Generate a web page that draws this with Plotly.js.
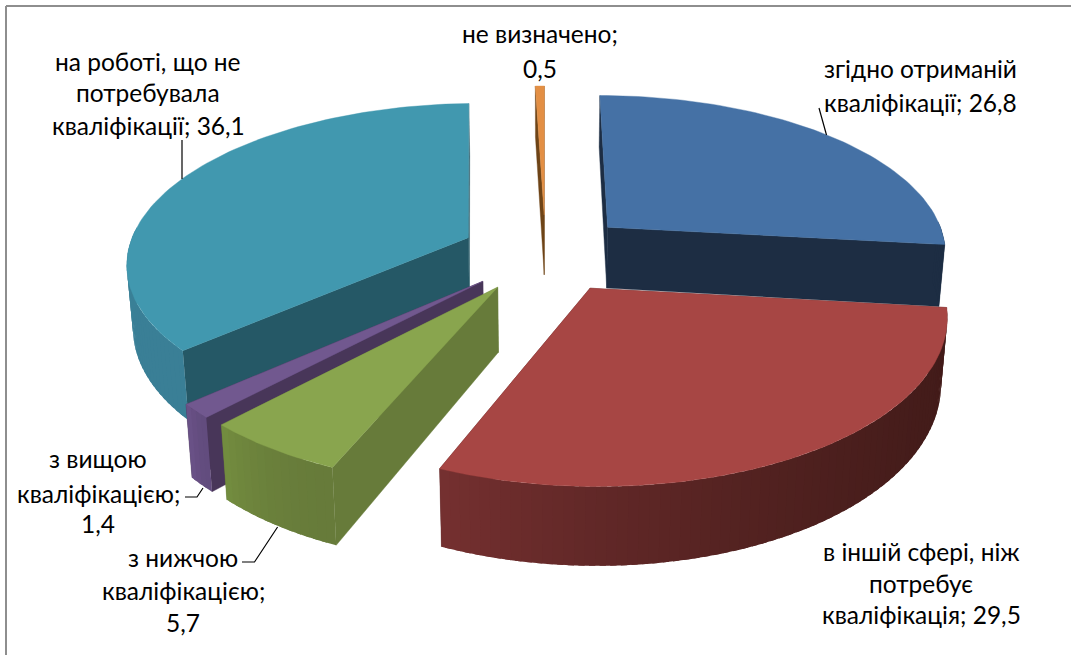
<!DOCTYPE html>
<html>
<head>
<meta charset="utf-8">
<script src="https://cdn.plot.ly/plotly-3.0.1.min.js"></script>
<style>html,body{margin:0;padding:0;background:#fff;overflow:hidden}</style>
</head>
<body>
<div id="chart" style="width:1071px;height:655px"></div>
<script>
// Data
const categories = ["згідно отриманій кваліфікації", "в іншій сфері, ніж потребує кваліфікація",
  "з нижчою кваліфікацією", "з вищою кваліфікацією", "на роботі, що не потребувала кваліфікації", "не визначено"];
const values = [26.8, 29.5, 5.7, 1.4, 36.1, 0.5];

// Label lines, per category
const labelLines = [
  ["згідно отриманій", "кваліфікації; 26,8"],
  ["в іншій сфері, ніж", "потребує", "кваліфікація; 29,5"],
  ["з нижчою", "кваліфікацією;", "5,7"],
  ["з вищою", "кваліфікацією;", "1,4"],
  ["на роботі, що не", "потребувала", "кваліфікації; 36,1"],
  ["не визначено;", "0,5"]
];
const labelX = [920, 921, 183, 98, 148, 540];
const labelY = [[68,102],[551,583,614],[557,590,622],[458,493,523],[61,92,125],[33,68]];

// Colours
const topColor  = ["#4571a5", "#a74644", "#89a54e", "#71588f", "#4198af", "#e38f44"];
const cutColor  = ["#1d2d43", "#5c2020", "#677b3a", "#483659", "#255866", "#6e4417"];
const wallFrom  = ["#1d2d43", "#421b19", "#677b3a", "#624c7e", "#3a7f96", "#8a5a20"]; // at the low-angle end
const wallTo    = ["#1d2d43", "#753030", "#738d3f", "#6b5288", "#3f8aa3", "#8a5a20"]; // at the high-angle end
const drawOrder = [4, 5, 0, 3, 2, 1];

// Projection of the tilted, exploded pie onto the pixel axes
const cx = 545.5, cy = 253, A = 341, B = 158, H = 64, K = 0.146, M = 0.015, EXPLODE = 0.25;
function project(X, Y, z) {
  const p = 1 / (1 + K * Y + M * z);
  return [cx + A * X * p, cy - B * Y * p + H * z * Math.pow(p, 1.5)];
}
function hex(c){return [1,3,5].map(i=>parseInt(c.substr(i,2),16));}
function mix(a,b,t){const x=hex(a),y=hex(b);return "rgb("+x.map((v,i)=>Math.round(v+(y[i]-v)*t)).join(",")+")";}

const traces = [];
function poly(pts, color, name, width) {
  traces.push({
    type: "scatter", mode: width ? "lines" : "none", name: name,
    x: pts.map(p=>p[0]).concat(pts[0][0]), y: pts.map(p=>p[1]).concat(pts[0][1]),
    fill: "toself", fillcolor: color, line: {color: color, width: width},
    hoverinfo: "text", text: name, showlegend: false
  });
}

const total = values.reduce((a,b)=>a+b,0);
const startAngle = [];
values.reduce((acc,v,i)=>{startAngle[i]=acc;return acc+v/total*2*Math.PI;},0);

drawOrder.forEach(i => {
  const a0 = startAngle[i], a1 = a0 + values[i]/total*2*Math.PI, mid = (a0+a1)/2;
  const ox = EXPLODE*Math.sin(mid), oy = EXPLODE*Math.cos(mid);
  const rim = (a,z) => project(ox+Math.sin(a), oy+Math.cos(a), z);
  const apex = z => project(ox, oy, z);
  const name = categories[i];
  const step = 1.5*Math.PI/180;
  const n = Math.max(1, Math.ceil((a1-a0)/step));
  // cut walls first, so that the outer wall and the top face lie over them
  poly([apex(0),rim(a1,0),rim(a1,1),apex(1)], cutColor[i], name, 0.4);
  poly([apex(0),rim(a0,0),rim(a0,1),apex(1)], cutColor[i], name, 0.4);
  // outer wall as shaded strips, only where it faces the viewer
  for (let s=0; s<n; s++) {
    const u0 = a0+(a1-a0)*s/n, u1 = a0+(a1-a0)*Math.min(n,s+1.6)/n;
    if (Math.cos(a0+(a1-a0)*(s+0.5)/n) > 0.05) continue;
    const t = (s+0.5)/n;
    const pts = [];
    for (const u of [u0,(u0+u1)/2,u1]) pts.push(rim(u,0));
    for (const u of [u1,(u0+u1)/2,u0]) pts.push(rim(u,1));
    poly(pts, mix(wallFrom[i],wallTo[i],t*t), name, 0);
  }
  // top face
  const top = [apex(0)];
  for (let s=0; s<=n; s++) top.push(rim(a0+(a1-a0)*s/n,0));
  poly(top, topColor[i], name, 0.4);
});

// Text labels
const annotations = [];
labelLines.forEach((lines,i)=>lines.forEach((t,j)=>annotations.push({
  x: labelX[i], y: labelY[i][j], xref:"x", yref:"y", text:t, showarrow:false,
  xanchor:"center", yanchor:"middle", font:{family:"Lato, 'Open Sans', sans-serif", size:24.5, color:"#000"}
})));

const leader = (pts)=>({type:"path", xref:"x", yref:"y",
  path:"M"+pts.map(p=>p.join(",")).join("L"), line:{color:"#000",width:1.2}});
const edge = (x0,y0,x1,y1)=>({type:"line", xref:"x", yref:"y", x0,y0,x1,y1, line:{color:"#8e8e8e",width:2}});

const layout = {
  width:1071, height:655, margin:{l:0,r:0,t:0,b:0},
  paper_bgcolor:"#fff", plot_bgcolor:"#fff", showlegend:false,
  xaxis:{range:[0,1071], visible:false, fixedrange:true},
  yaxis:{range:[655,0], visible:false, fixedrange:true},
  annotations: annotations,
  shapes:[
    edge(6,6,1071,6),
    edge(6,6,6,655),
    leader([[182,140],[182,179]]),
    leader([[819,108],[826.5,135]]),
    leader([[185,497],[197,497],[203,488]]),
    leader([[242,562],[254.5,562],[277.6,527]])
  ]
};
Plotly.newPlot("chart", traces, layout, {displayModeBar:false, staticPlot:true});
</script>
</body>
</html>
